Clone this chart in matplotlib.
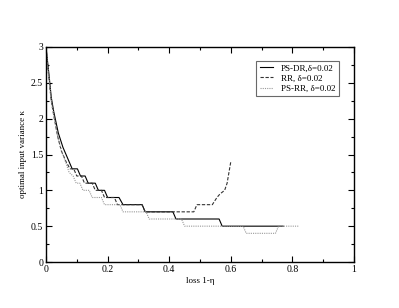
import matplotlib
matplotlib.use("Agg")
import matplotlib.pyplot as plt
from matplotlib.ticker import MultipleLocator, FuncFormatter

# PS-DR, delta=0.02
psdr_x = [0, 0.005, 0.01, 0.017, 0.025, 0.04, 0.055, 0.07, 0.085, 0.102, 0.112, 0.127, 0.137, 0.16, 0.17,
          0.19, 0.2, 0.237, 0.25, 0.312, 0.322, 0.412, 0.422, 0.562, 0.572, 0.77]
psdr_y = [3, 2.8, 2.6, 2.3, 2.1, 1.8, 1.6, 1.45, 1.3, 1.3, 1.2, 1.2, 1.1, 1.1, 1.0,
          1.0, 0.9, 0.9, 0.8, 0.8, 0.7, 0.7, 0.6, 0.6, 0.5, 0.5]

# RR, delta=0.02
rr_x = [0, 0.005, 0.01, 0.017, 0.025, 0.038, 0.05, 0.065, 0.078, 0.09, 0.1, 0.115, 0.125, 0.15, 0.16,
        0.18, 0.19, 0.222, 0.232, 0.312, 0.322, 0.48, 0.49, 0.54, 0.555, 0.565, 0.58, 0.588, 0.6]
rr_y = [3, 2.75, 2.55, 2.25, 2.05, 1.75, 1.55, 1.4, 1.3, 1.3, 1.2, 1.2, 1.1, 1.1, 1.0,
        1.0, 0.9, 0.9, 0.8, 0.8, 0.7, 0.7, 0.8, 0.8, 0.9, 0.95, 1.0, 1.1, 1.4]

# PS-RR, delta=0.02
psrr_x = [0, 0.005, 0.01, 0.017, 0.025, 0.038, 0.05, 0.065, 0.075, 0.088, 0.098, 0.11, 0.12, 0.14, 0.15,
          0.18, 0.19, 0.24, 0.25, 0.325, 0.335, 0.44, 0.45, 0.64, 0.65, 0.745, 0.755, 0.82]
psrr_y = [3, 2.75, 2.55, 2.25, 2.05, 1.75, 1.55, 1.38, 1.25, 1.2, 1.1, 1.1, 1.0, 1.0, 0.9,
          0.9, 0.8, 0.8, 0.7, 0.7, 0.6, 0.6, 0.5, 0.5, 0.4, 0.4, 0.5, 0.5]

labels = ["PS-DR,\u03b4=0.02", "RR, \u03b4=0.02", "PS-RR, \u03b4=0.02"]

plt.rcParams['font.family'] = ['Liberation Serif', 'DejaVu Serif']

fig = plt.figure(figsize=(3.99, 3.08), dpi=100)
ax = fig.add_axes([46/399, 1-262/308, 308/399, 215/308])

ax.plot(psdr_x, psdr_y, color='black', lw=0.8, ls='-', label=labels[0])
ax.plot(rr_x, rr_y, color='#333333', lw=0.8, ls=(0, (3, 1.5)), label=labels[1])
ax.plot(psrr_x, psrr_y, color='#999999', lw=0.8, ls=(0, (1, 1)), label=labels[2])

ax.set_xlim(0, 1)
ax.set_ylim(0, 3)
ax.xaxis.set_major_locator(MultipleLocator(0.2))
ax.xaxis.set_minor_locator(MultipleLocator(0.1))
ax.yaxis.set_major_locator(MultipleLocator(0.5))
ax.yaxis.set_minor_locator(MultipleLocator(0.25))
fmt = FuncFormatter(lambda v, p: "%g" % round(v, 3))
ax.xaxis.set_major_formatter(fmt)
ax.yaxis.set_major_formatter(fmt)
ax.tick_params(which='both', direction='in', top=True, right=True, labelsize=7, width=0.8, pad=2)
ax.tick_params(which='major', length=4)
ax.tick_params(which='minor', length=2)
for s in ax.spines.values():
    s.set_linewidth(1.0)

ax.set_xlabel("loss 1-\u03b7", fontsize=6.5, labelpad=2)
ax.set_ylabel("optimal input variance \u03ba", fontsize=6.5, labelpad=3)

leg = ax.legend(loc='upper right', bbox_to_anchor=(0.951, 0.935), borderaxespad=0, fontsize=6.5,
                frameon=True, fancybox=False, handlelength=1.5, handletextpad=0.9,
                labelspacing=0.2, borderpad=0.35)
leg.get_frame().set_edgecolor('#444444')
leg.get_frame().set_linewidth(0.8)

fig.savefig("out.png", dpi=100)
